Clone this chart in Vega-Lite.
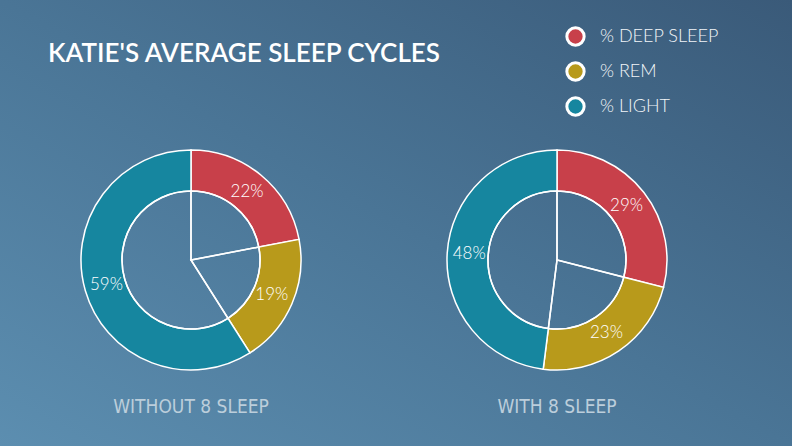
{
  "$schema": "https://vega.github.io/schema/vega-lite/v6.json",
  "width": 792,
  "height": 446,
  "autosize": {"type": "fit", "contains": "padding"},
  "padding": 0,
  "background": "#4A7596",
  "config": {
    "view": {
      "stroke": null,
      "fill": {
        "gradient": "linear",
        "x1": 0, "y1": 1, "x2": 1, "y2": 0,
        "stops": [
          {"offset": 0, "color": "#5C8EB0"},
          {"offset": 0.5, "color": "#4A7596"},
          {"offset": 1, "color": "#3A5A79"}
        ]
      }
    }
  },
  "title": {
    "text": "KATIE'S AVERAGE SLEEP CYCLES",
    "orient": "top",
    "anchor": "start",
    "frame": "group",
    "offset": -88,
    "dx": 48,
    "baseline": "alphabetic",
    "font": "Lato",
    "fontWeight": 600,
    "fontSize": 26,
    "color": "#FFFFFF"
  },
  "data": {
    "values": [
      {"chart": "WITHOUT 8 SLEEP", "stage": "% DEEP SLEEP", "value": 22},
      {"chart": "WITHOUT 8 SLEEP", "stage": "% REM", "value": 19},
      {"chart": "WITHOUT 8 SLEEP", "stage": "% LIGHT", "value": 59},
      {"chart": "WITH 8 SLEEP", "stage": "% DEEP SLEEP", "value": 29},
      {"chart": "WITH 8 SLEEP", "stage": "% REM", "value": 23},
      {"chart": "WITH 8 SLEEP", "stage": "% LIGHT", "value": 48}
    ]
  },
  "transform": [
    {"stack": "value", "groupby": ["chart"], "as": ["v0", "v1"]}
  ],
  "encoding": {
    "x": {
      "field": "chart", "type": "nominal", "axis": null,
      "scale": {"type": "point", "padding": 0, "domain": ["WITHOUT 8 SLEEP", "WITH 8 SLEEP"], "range": [191, 557]}
    },
    "y": {
      "field": "chart", "type": "nominal", "axis": null,
      "scale": {"type": "point", "padding": 0, "domain": ["WITHOUT 8 SLEEP", "WITH 8 SLEEP"], "range": [260, 260]}
    }
  },
  "layer": [
    {
      "mark": {"type": "arc", "outerRadius": 110, "innerRadius": 69, "stroke": "#FFFFFF", "strokeWidth": 1.5},
      "encoding": {
        "theta": {"field": "v0", "type": "quantitative", "scale": {"domain": [0, 100]}},
        "theta2": {"field": "v1"},
        "color": {
          "field": "stage", "type": "nominal",
          "scale": {"domain": ["% DEEP SLEEP", "% REM", "% LIGHT"], "range": ["#C8404A", "#B89A1B", "#16869F"]},
          "legend": {
            "title": null,
            "orient": "none",
            "legendX": 565,
            "legendY": 26,
            "padding": 0,
            "symbolType": "circle",
            "symbolSize": 300,
            "symbolStrokeColor": "#FFFFFF",
            "symbolStrokeWidth": 3,
            "symbolOpacity": 1,
            "labelFont": "Lato",
            "labelFontWeight": 300,
            "labelFontSize": 18,
            "labelColor": "#F2F5F8",
            "labelOffset": 14,
            "rowPadding": 4
          }
        }
      }
    },
    {
      "mark": {"type": "arc", "outerRadius": 69, "innerRadius": 0, "fill": "transparent", "stroke": "#FFFFFF", "strokeWidth": 1.5},
      "encoding": {
        "theta": {"field": "v0", "type": "quantitative", "scale": {"domain": [0, 100]}},
        "theta2": {"field": "v1"}
      }
    },
    {
      "mark": {
        "type": "text", "radius": 88, "thetaOffset": {"expr": "PI * datum.value / 100"},
        "text": {"expr": "datum.value + '%'"},
        "font": "Lato", "fontWeight": 300, "fontSize": 17, "color": "#FFFFFF", "align": "center", "baseline": "middle"
      },
      "encoding": {
        "theta": {"field": "v0", "type": "quantitative", "scale": {"domain": [0, 100]}}
      }
    },
    {
      "transform": [{"filter": "datum.stage === '% DEEP SLEEP'"}],
      "mark": {"type": "text", "dy": 147, "font": "'Liberation Sans Narrow', 'DejaVu Sans Condensed', Roboto, sans-serif", "fontSize": 19, "letterSpacing": 0.6, "color": "#BCCEDB", "align": "center", "baseline": "middle"},
      "encoding": {
        "text": {"field": "chart", "type": "nominal"}
      }
    }
  ]
}
